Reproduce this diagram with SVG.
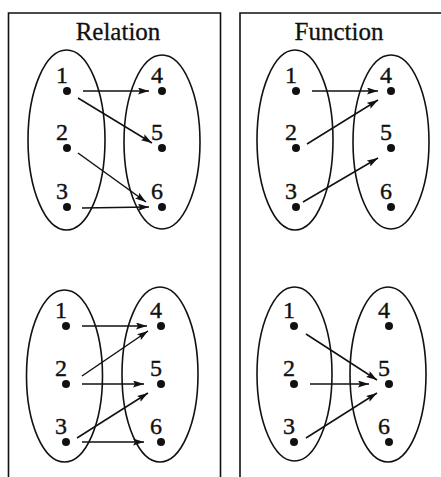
<svg xmlns="http://www.w3.org/2000/svg" width="441" height="477" viewBox="0 0 441 477">
<style>
.frame{fill:none;stroke:#111;stroke-width:1.6}
.set{fill:none;stroke:#111;stroke-width:1.6}
.dot{fill:#111}
.lbl{font-family:"Liberation Serif","Times New Roman",serif;font-size:24px;fill:#111;stroke:#111;stroke-width:0.4;text-anchor:middle}
.ttl{font-family:"Liberation Serif","Times New Roman",serif;font-size:25px;fill:#111;stroke:#111;stroke-width:0.3;text-anchor:middle}
.arr{fill:none;stroke:#111;stroke-width:1.5;marker-end:url(#ah)}
</style>
<defs>
<marker id="ah" viewBox="0 0 11 7" refX="11" refY="3.5" markerWidth="11" markerHeight="7" markerUnits="userSpaceOnUse" orient="auto">
<path d="M0,0 L11,3.5 L0,7 L2,3.5 Z" fill="#111"/>
</marker>
</defs>
<rect width="441" height="477" fill="#fff"/>
<g id="frames">
<path class="frame" d="M8.5,477 V13 H220.5 V477"/>
<path class="frame" d="M240,477 V13 H441"/>
<text class="ttl" x="118" y="40">Relation</text>
<text class="ttl" x="339" y="40">Function</text>
</g>

<g id="relation-top">
<ellipse class="set" cx="66.5" cy="140" rx="38.5" ry="90"/>
<ellipse class="set" cx="162" cy="142" rx="38" ry="87"/>
<circle class="dot" cx="67" cy="91" r="4"/><circle class="dot" cx="67" cy="148" r="4"/><circle class="dot" cx="67" cy="207" r="4"/>
<circle class="dot" cx="162" cy="91" r="4"/><circle class="dot" cx="162" cy="148" r="4"/><circle class="dot" cx="162" cy="207" r="4"/>
<text class="lbl" x="62" y="83">1</text><text class="lbl" x="62" y="140">2</text><text class="lbl" x="62" y="199">3</text>
<text class="lbl" x="157" y="83">4</text><text class="lbl" x="157" y="140">5</text><text class="lbl" x="157" y="199">6</text>
</g>
<g id="function-top">
<ellipse class="set" cx="295" cy="140" rx="38" ry="90"/>
<ellipse class="set" cx="391" cy="142" rx="38" ry="87"/>
<circle class="dot" cx="296" cy="91" r="4"/><circle class="dot" cx="296" cy="148" r="4"/><circle class="dot" cx="296" cy="207" r="4"/>
<circle class="dot" cx="391" cy="91" r="4"/><circle class="dot" cx="391" cy="148" r="4"/><circle class="dot" cx="391" cy="207" r="4"/>
<text class="lbl" x="291" y="83">1</text><text class="lbl" x="291" y="140">2</text><text class="lbl" x="291" y="199">3</text>
<text class="lbl" x="386" y="83">4</text><text class="lbl" x="386" y="140">5</text><text class="lbl" x="386" y="199">6</text>
</g>
<g id="relation-bottom">
<ellipse class="set" cx="64.5" cy="376" rx="38" ry="86"/>
<ellipse class="set" cx="160" cy="374.5" rx="38" ry="87.5"/>
<circle class="dot" cx="66" cy="326" r="4"/><circle class="dot" cx="66" cy="384" r="4"/><circle class="dot" cx="66" cy="442" r="4"/>
<circle class="dot" cx="161" cy="326" r="4"/><circle class="dot" cx="161" cy="384" r="4"/><circle class="dot" cx="161" cy="442" r="4"/>
<text class="lbl" x="61" y="318">1</text><text class="lbl" x="61" y="376">2</text><text class="lbl" x="61" y="434">3</text>
<text class="lbl" x="156" y="318">4</text><text class="lbl" x="156" y="376">5</text><text class="lbl" x="156" y="434">6</text>
</g>
<g id="function-bottom">
<ellipse class="set" cx="294.5" cy="374" rx="37.5" ry="87"/>
<ellipse class="set" cx="388" cy="374.5" rx="38" ry="87.5"/>
<circle class="dot" cx="294" cy="326" r="4"/><circle class="dot" cx="294" cy="384" r="4"/><circle class="dot" cx="294" cy="442" r="4"/>
<circle class="dot" cx="389" cy="326" r="4"/><circle class="dot" cx="389" cy="384" r="4"/><circle class="dot" cx="389" cy="442" r="4"/>
<text class="lbl" x="289" y="318">1</text><text class="lbl" x="289" y="376">2</text><text class="lbl" x="289" y="434">3</text>
<text class="lbl" x="384" y="318">4</text><text class="lbl" x="384" y="376">5</text><text class="lbl" x="384" y="434">6</text>
</g>

<g id="connectors">
<line class="arr" x1="83" y1="91" x2="149" y2="91"/>
<line class="arr" x1="78" y1="98" x2="152" y2="143"/>
<line class="arr" x1="78" y1="153" x2="146" y2="202"/>
<line class="arr" x1="82" y1="208" x2="149" y2="207"/>

<line class="arr" x1="312" y1="91" x2="378" y2="91"/>
<line class="arr" x1="307" y1="144" x2="378" y2="100"/>
<line class="arr" x1="303" y1="202" x2="378" y2="158"/>

<line class="arr" x1="82" y1="326" x2="147" y2="326"/>
<line class="arr" x1="82" y1="376" x2="148" y2="331"/>
<line class="arr" x1="82" y1="384" x2="144" y2="384"/>
<line class="arr" x1="77" y1="438" x2="148" y2="393"/>
<line class="arr" x1="82" y1="442" x2="144" y2="442"/>

<line class="arr" x1="306" y1="334" x2="377" y2="380"/>
<line class="arr" x1="310" y1="384" x2="369" y2="384"/>
<line class="arr" x1="306" y1="438" x2="377" y2="393"/>
</g>
</svg>
